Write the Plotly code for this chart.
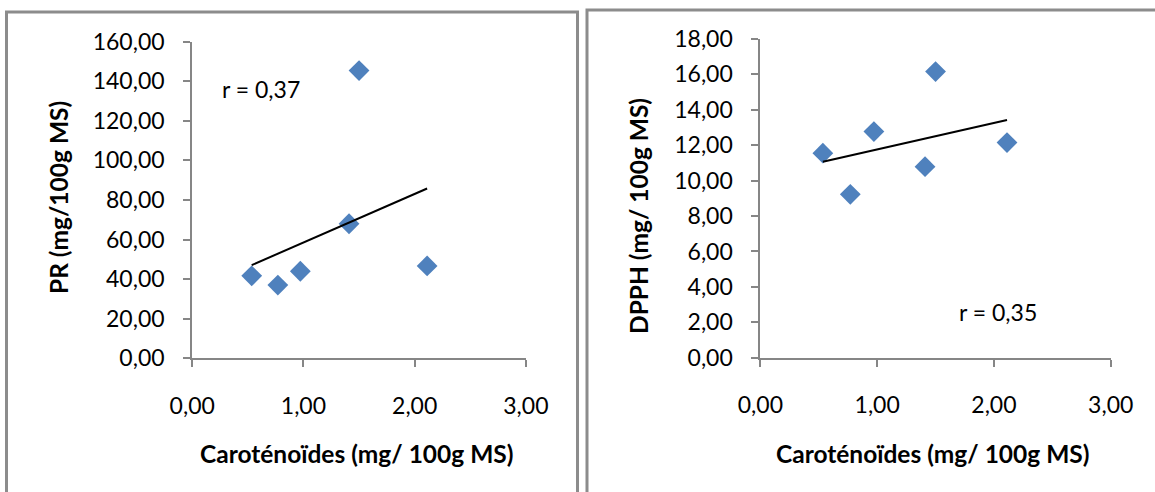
import plotly.graph_objects as go

# ---- data ----
carotenoides = [0.535, 0.77, 0.972, 1.41, 1.50, 2.112]
pr_values = [41.7, 37.0, 44.0, 68.0, 145.4, 46.7]
dpph_values = [11.55, 9.23, 12.77, 10.79, 16.16, 12.15]

trend_x = [0.535, 2.112]
pr_trend = [47.1, 85.8]
dpph_trend = [11.07, 13.43]

x_tickvals = [0, 1, 2, 3]
x_ticktext = ["0,00", "1,00", "2,00", "3,00"]
pr_tickvals = [0, 20, 40, 60, 80, 100, 120, 140, 160]
pr_ticktext = ["0,00", "20,00", "40,00", "60,00", "80,00", "100,00", "120,00", "140,00", "160,00"]
dpph_tickvals = [0, 2, 4, 6, 8, 10, 12, 14, 16, 18]
dpph_ticktext = ["0,00", "2,00", "4,00", "6,00", "8,00", "10,00", "12,00", "14,00", "16,00", "18,00"]

x_title = "Caroténoïdes (mg/ 100g MS)"
pr_title = "PR (mg/100g MS)"
dpph_title = "DPPH (mg/ 100g MS)"
r_pr = "r = 0,37"
r_dpph = "r = 0,35"

# ---- layout helpers ----
W, H = 1155, 492
def fx(px):
    return px / W
def fy(py):
    return 1 - py / H

MARKER = "#4F81BD"
AXIS = "#868686"
FONT = "Lato"
TICK_SIZE = 23
TITLE_SIZE = 24.5

fig = go.Figure()

fig.add_trace(go.Scatter(x=carotenoides, y=pr_values, mode="markers",
                         marker=dict(symbol="diamond", size=16, color=MARKER, line=dict(width=0)),
                         xaxis="x", yaxis="y", showlegend=False))
fig.add_trace(go.Scatter(x=trend_x, y=pr_trend, mode="lines",
                         line=dict(color="black", width=2),
                         xaxis="x", yaxis="y", showlegend=False))
fig.add_trace(go.Scatter(x=carotenoides, y=dpph_values, mode="markers",
                         marker=dict(symbol="diamond", size=16, color=MARKER, line=dict(width=0)),
                         xaxis="x2", yaxis="y2", showlegend=False))
fig.add_trace(go.Scatter(x=trend_x, y=dpph_trend, mode="lines",
                         line=dict(color="black", width=2),
                         xaxis="x2", yaxis="y2", showlegend=False))

common_axis = dict(showgrid=False, zeroline=False, showline=True, linecolor=AXIS, linewidth=2,
                   ticks="outside", ticklen=7, tickwidth=2, tickcolor=AXIS, automargin=False,
                   tickfont=dict(family=FONT, size=TICK_SIZE, color="black"), fixedrange=True)

fig.update_layout(
    template="none",
    width=W, height=H,
    margin=dict(l=0, r=0, t=0, b=0, pad=0, autoexpand=False),
    paper_bgcolor="white", plot_bgcolor="white",
    font=dict(family=FONT, color="black"),
    xaxis=dict(domain=[fx(192.2), fx(525.9)], range=[0, 3], tickvals=x_tickvals, ticktext=x_ticktext,
               anchor="y", ticklabelstandoff=19, **common_axis),
    yaxis=dict(domain=[fy(358.3), fy(41.7)], range=[0, 160], tickvals=pr_tickvals, ticktext=pr_ticktext,
               anchor="x", ticklabelstandoff=14, **common_axis),
    xaxis2=dict(domain=[fx(760.4), fx(1110.7)], range=[0, 3], tickvals=x_tickvals, ticktext=x_ticktext,
                anchor="y2", ticklabelstandoff=19, **common_axis),
    yaxis2=dict(domain=[fy(357.7), fy(39.0)], range=[0, 18], tickvals=dpph_tickvals, ticktext=dpph_ticktext,
                anchor="x2", ticklabelstandoff=14, **common_axis),
)

title_font = dict(family=FONT, size=TITLE_SIZE, color="black", weight="bold")
text_font = dict(family=FONT, size=TICK_SIZE, color="black")
annots = [
    dict(text=x_title, x=fx(356), y=fy(453), xanchor="center", yanchor="middle", font=title_font),
    dict(text=x_title, x=fx(932), y=fy(453), xanchor="center", yanchor="middle", font=title_font),
    dict(text=pr_title, x=fx(58), y=fy(198), xanchor="center", yanchor="middle", textangle=-90, font=title_font),
    dict(text=dpph_title, x=fx(639), y=fy(216), xanchor="center", yanchor="middle", textangle=-90, font=title_font),
    dict(text=r_pr, x=fx(220), y=fy(89), xanchor="left", yanchor="middle", font=text_font),
    dict(text=r_dpph, x=fx(957), y=fy(312), xanchor="left", yanchor="middle", font=text_font),
]
for a in annots:
    fig.add_annotation(xref="paper", yref="paper", showarrow=False, **a)

# chart frames
frame = dict(color="#8C8C8C", width=3)
fig.add_shape(type="rect", xref="paper", yref="paper",
              x0=fx(6.5), x1=fx(577.5), y0=fy(520), y1=fy(12), line=frame, fillcolor="rgba(0,0,0,0)", layer="below")
fig.add_shape(type="rect", xref="paper", yref="paper",
              x0=fx(587), x1=fx(1180), y0=fy(520), y1=fy(10), line=frame, fillcolor="rgba(0,0,0,0)", layer="below")

fig.write_html("out.html", config=dict(displayModeBar=False))
